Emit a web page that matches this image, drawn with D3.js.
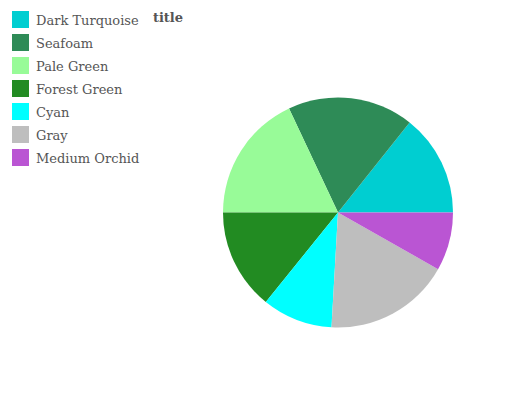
<!DOCTYPE html>
<html>
<head>
<meta charset="utf-8">
<script src="https://cdn.jsdelivr.net/npm/d3@7"></script>
<style>
body { margin: 0; background: #fff; }
text { font-family: "DejaVu Serif", serif; fill: #555; }
</style>
</head>
<body>
<svg id="chart" width="532" height="400"></svg>
<script>
var names = ["Dark Turquoise", "Seafoam", "Pale Green", "Forest Green", "Cyan", "Gray", "Medium Orchid"];
var values = [14.3, 17.7, 18.0, 14.2, 9.9, 17.7, 8.2];
var colors = ["#00CED1", "#2E8B57", "#98FB98", "#228B22", "#00FFFF", "#BEBEBE", "#BA55D3"];

var svg = d3.select("#chart");
var color = d3.scaleOrdinal().domain(names).range(colors);

// slices go counter-clockwise starting at 3 o'clock
var pie = d3.pie().sort(null).startAngle(Math.PI / 2).endAngle(Math.PI / 2 - 2 * Math.PI);
var arc = d3.arc().innerRadius(0).outerRadius(115);
var data = names.map(function(n, i) { return {name: n, value: values[i]}; });

svg.append("g")
    .attr("transform", "translate(338,212.5)")
  .selectAll("path")
  .data(pie.value(function(d) { return d.value; })(data))
  .enter().append("path")
    .attr("d", arc)
    .attr("fill", function(d) { return color(d.data.name); });

var legend = svg.append("g").selectAll("g")
  .data(names)
  .enter().append("g")
    .attr("transform", function(d, i) { return "translate(12," + (11 + i * 23) + ")"; });
legend.append("rect")
    .attr("width", 17).attr("height", 17)
    .attr("fill", function(d) { return color(d); });
legend.append("text")
    .attr("x", 24).attr("y", 13.5)
    .style("font-size", "13px")
    .text(function(d) { return d; });

svg.append("text")
    .attr("x", 168).attr("y", 22)
    .attr("text-anchor", "middle")
    .style("font-size", "13px").style("font-weight", "bold")
    .text("title");
</script>
</body>
</html>
